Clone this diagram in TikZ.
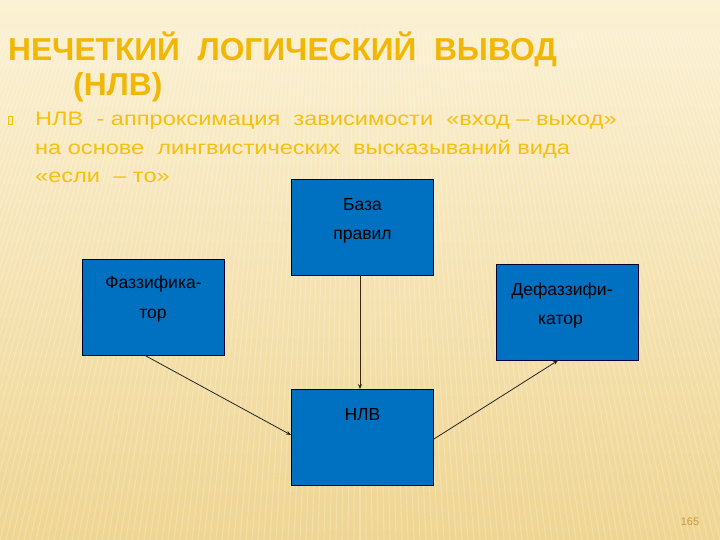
\documentclass[tikz,border=0pt]{standalone}
\usepackage{fontspec}
\setmainfont{Liberation Sans}
\usetikzlibrary{arrows.meta}
\definecolor{bgtop}{HTML}{FBF1D4}
\definecolor{bgbot}{HTML}{EFD592}
\definecolor{titlecol}{HTML}{F2B705}
\definecolor{bodycol}{HTML}{F5C010}
\definecolor{boxfill}{HTML}{0070C0}
\definecolor{numcol}{HTML}{C99A36}
\tikzset{
  box/.style={draw=black!80!blue, line width=0.9pt, fill=boxfill, minimum width=142pt, minimum height=96pt, inner sep=0pt},
  boxtext/.style={font=\fontsize{17.5}{17.5}\selectfont, text=black, inner sep=0pt},
  conn/.style={draw=black!85, line width=0.8pt, -{Stealth[length=5pt,width=4pt]}},
  bodytext/.style={anchor=base west, inner sep=0pt, text=bodycol, font=\fontsize{19.5}{19.5}\selectfont},
  titletext/.style={anchor=base west, inner sep=0pt, text=titlecol, font=\fontsize{31.7}{31.7}\selectfont\bfseries},
}
\newcommand{\wide}[1]{\scalebox{1.21}[1]{#1}}
\begin{document}
\begin{tikzpicture}[x=1pt,y=-1pt]
\useasboundingbox (0,0) rectangle (720,540);
\shade[top color=bgtop, bottom color=bgbot] (0,0) rectangle (720,540);
\begin{scope}
\clip (0,30) rectangle (720,540);
\foreach \t in {-1500,-1494,...,1500}
  \draw[white, opacity=0.22, line width=1.1pt] (360,-900) -- (360+\t,540);
\end{scope}

% title
\node[titletext] (t1) at (8,61) {НЕЧЕТКИЙ\ \ ЛОГИЧЕСКИЙ\ \ ВЫВОД};
\node[titletext] (t2) at (73,96) {(НЛВ)};

% bullet and body
\node[draw=bodycol, line width=0.5pt, minimum width=4pt, minimum height=8pt, inner sep=0pt] (bul) at (10,120) {};
\node[bodytext] (l1) at (35,126) {\wide{НЛВ\ \ - аппроксимация\ \ зависимости\ \ «вход – выход»}};
\node[bodytext] (l2) at (35,155) {\wide{на основе\ \ лингвистических\ \ высказываний вида}};
\node[bodytext] (l3) at (35,183) {\wide{«если\ \ – то»}};

% boxes
\node[box] (baza) at (362.5,227) {};
\node[box] (fazz) at (153,307) {};
\node[box] (defz) at (567,312) {};
\node[box] (nlv) at (362.5,437.5) {};

\node[boxtext] (bz1) at (362.5,205) {База};
\node[boxtext] (bz2) at (362.5,237) {правил};
\node[boxtext] (fz1) at (153.5,284) {Фаззифика-};
\node[boxtext] (fz2) at (153,316) {тор};
\node[boxtext] (df1) at (562,291) {Дефаззифи-};
\node[boxtext] (df2) at (560.5,322) {катор};
\node[boxtext] (nl1) at (362.5,415) {НЛВ};

% connectors
\draw[conn] ([xshift=-8pt]fazz.south) -- ([yshift=2.5pt]nlv.west);
\draw[conn, draw=black!70!brown] ([xshift=-2.5pt]baza.south) -- ([xshift=-2.5pt]nlv.north);
\draw[conn] ([yshift=-1.5pt]nlv.east) -- ([xshift=-9pt]defz.south);

% page number
\node[inner sep=0pt, text=numcol, font=\fontsize{11}{11}\selectfont] (pg) at (690,522) {165};
\end{tikzpicture}
\end{document}
